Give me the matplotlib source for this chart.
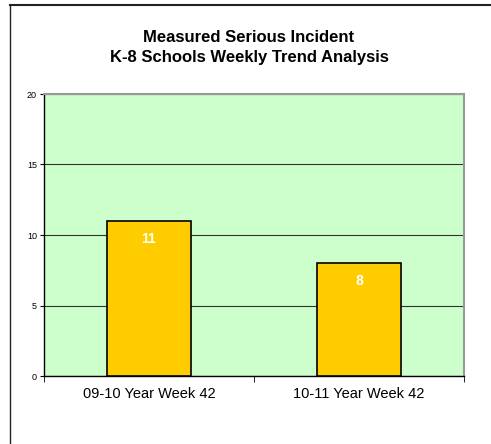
import matplotlib
matplotlib.use("Agg")
import matplotlib.pyplot as plt
from matplotlib.lines import Line2D

categories = ["09-10 Year Week 42", "10-11 Year Week 42"]
incidents = [11, 8]
y_ticks = [0, 5, 10, 15, 20]

plt.rcParams['font.family'] = ['Liberation Sans', 'DejaVu Sans']

W, H = 491, 444
fig = plt.figure(figsize=(W / 100, H / 100), dpi=100)

# outer chart border (only top and left visible)
fig.add_artist(Line2D([10 / W, 1.0], [1 - 5 / H, 1 - 5 / H], color='#222222', lw=1.5))
fig.add_artist(Line2D([10 / W, 10 / W], [0, 1 - 5 / H], color='#222222', lw=1.0))

ax = fig.add_axes([44 / W, (H - 376) / H, 420 / W, 282 / H])
ax.set_facecolor('#CCFFCC')

x = list(range(len(categories)))
bars = ax.bar(x, incidents, width=0.4, color='#FFCC00', edgecolor='black', lw=1.2, zorder=3)
for b, v in zip(bars, incidents):
    ax.annotate(str(v), (b.get_x() + b.get_width() / 2, v), xytext=(0, -13),
                textcoords='offset points', ha='center', va='center',
                color='white', fontweight='bold', fontsize=10, zorder=4)

ax.set_xlim(-0.5, len(categories) - 0.5)
ax.set_ylim(0, 20)
ax.set_yticks(y_ticks)
ax.yaxis.grid(True, color='#333333', lw=0.8, zorder=1)
ax.tick_params(axis='y', labelsize=6.5, length=3, direction='out', pad=2)

ax.set_xticks(x)
ax.set_xticklabels(categories, fontsize=10.5)
ax.set_xticks([i + 0.5 for i in range(-1, len(categories))], minor=True)
ax.tick_params(axis='x', which='major', length=0, pad=8)
ax.tick_params(axis='x', which='minor', length=4, direction='out')

for s in ['top', 'right']:
    ax.spines[s].set_color('#999999')
    ax.spines[s].set_linewidth(1.5)
for s in ['left', 'bottom']:
    ax.spines[s].set_color('black')
    ax.spines[s].set_linewidth(1.0)

fig.text(249 / W, 1 - 47.5 / H, "Measured Serious Incident\nK-8 Schools Weekly Trend Analysis",
         ha='center', va='center', fontsize=12, fontweight='bold', linespacing=1.45)

fig.savefig("out.png", dpi=100)
